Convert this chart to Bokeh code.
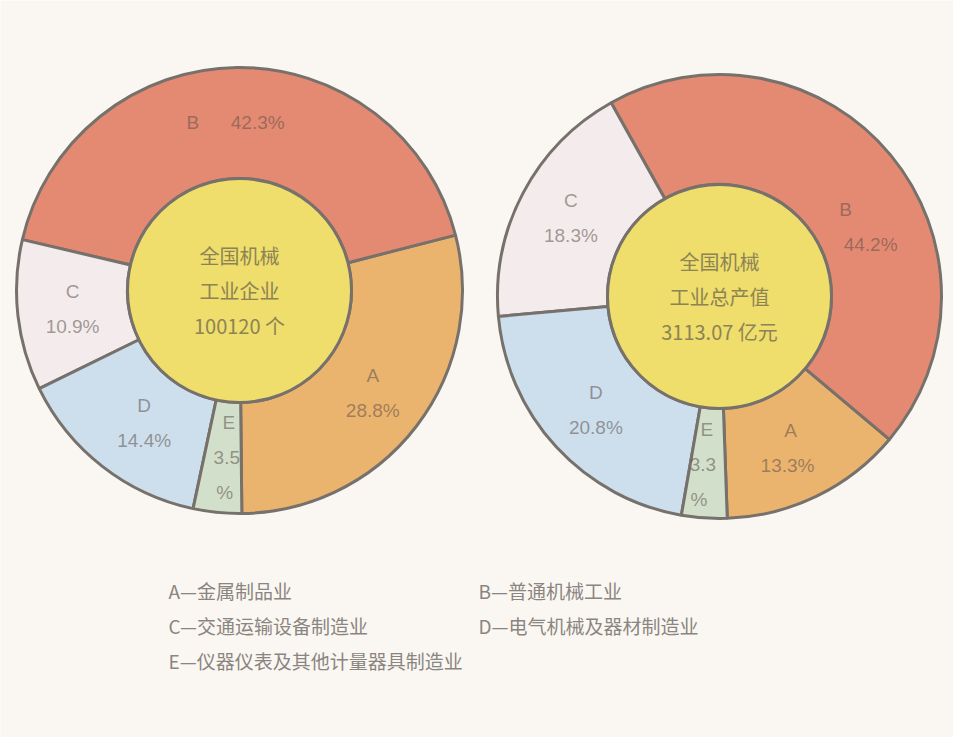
import numpy as np
from bokeh.plotting import figure
from bokeh.models import Range1d, ColumnDataSource
from bokeh.core.properties import value
from bokeh.embed import file_html
from bokeh.resources import INLINE

# ---------------- data ----------------
categories = ["A", "B", "C", "D", "E"]
enterprise_share = [28.8, 42.3, 10.9, 14.4, 3.5]     # 全国机械工业企业 100120 个
output_share = [13.3, 44.2, 18.3, 20.8, 3.3]         # 全国机械工业总产值 3113.07 亿元
legend_names = ["金属制品业", "普通机械工业", "交通运输设备制造业",
                "电气机械及器材制造业", "仪器仪表及其他计量器具制造业"]
center_left = ["全国机械", "工业企业", "100120 个"]
center_right = ["全国机械", "工业总产值", "3113.07 亿元"]

# ---------------- style ----------------
colors = ["#ebb46e", "#e48a72", "#f3ebec", "#cddeec", "#d2dfcb"]
BG = "#faf7f2"
EDGE = "#77716c"
CENTER_FILL = "#efdd6c"
LABEL_COLOR = "#5a4e48"
LABEL_FONT = value("Liberation Sans")
CJK_FONT = value("Noto Sans CJK SC")

W, H = 953, 737
IMG_H = 737
p = figure(width=W, height=H, x_range=Range1d(0, W), y_range=Range1d(IMG_H - H, IMG_H),
           output_backend="svg", toolbar_location=None, x_axis_type=None, y_axis_type=None,
           min_border=0, background_fill_color=BG, border_fill_color=BG, outline_line_color=None)
p.grid.visible = False


def Y(img_y):
    return IMG_H - img_y


def donut(cx, cy_img, shares, start_deg, center_lines, r_in=112, r_out=223,
          label_r=168, label_mode=None, center_spacing=35):
    cy = Y(cy_img)
    vals = np.array(shares, dtype=float)
    frac = vals / vals.sum()
    ends = np.deg2rad(start_deg) + 2 * np.pi * np.cumsum(frac)
    starts = ends - 2 * np.pi * frac
    src = ColumnDataSource(dict(start=starts, end=ends, color=colors, cat=categories))
    p.annular_wedge(x=cx, y=cy, inner_radius=r_in, outer_radius=r_out,
                    start_angle="start", end_angle="end", fill_color="color",
                    line_color=EDGE, line_width=3, source=src)
    p.circle(x=[cx], y=[cy], radius=r_in, fill_color=CENTER_FILL,
             line_color=EDGE, line_width=3)

    # ring labels
    lx, ly, lt = [], [], []
    for i, c in enumerate(categories):
        mid = (starts[i] + ends[i]) / 2
        mode = (label_mode or {}).get(c, {})
        mid += np.deg2rad(mode.get("dang", 0))
        rr = mode.get("r", label_r)
        ax = cx + rr * np.cos(mid) + mode.get("dx", 0)
        ay = cy + rr * np.sin(mid)
        pct = f"{shares[i]}%"
        kind = mode.get("kind", "two")
        if kind == "one":
            lx += [ax - 45, ax + 20]
            ly += [ay, ay]
            lt += [c, pct]
            continue
        if kind == "three":
            lines = [c, f"{shares[i]}", "%"]
        else:
            lines = [c, pct]
        n = len(lines)
        for k, t in enumerate(lines):
            lx.append(ax - mode.get("slant", 0) * (k - (n - 1) / 2))
            ly.append(ay + 35 * ((n - 1) / 2 - k))
            lt.append(t)
    p.text(x=lx, y=ly, text=lt, text_font=LABEL_FONT, text_font_size="19px",
           text_color=LABEL_COLOR, text_alpha=0.55, text_align="center",
           text_baseline="middle")

    # centre text
    n = len(center_lines)
    p.text(x=[cx] * n, y=[cy + center_spacing * ((n - 1) / 2 - k) for k in range(n)],
           text=center_lines, text_font=CJK_FONT, text_font_size="20px",
           text_color="#8c8455", text_align="center", text_baseline="middle")


donut(239, 290, enterprise_share, -89.4, center_left,
      label_mode={"B": {"kind": "one"}, "D": {"dx": 8},
                  "E": {"kind": "three", "slant": 2, "dx": 4}})
donut(719, 296, output_share, -88.0, center_right, r_out=222,
      label_mode={"B": {"dang": -13, "r": 155, "slant": -25},
                  "A": {"dx": -4, "slant": 3},
                  "E": {"kind": "three", "slant": 4, "dx": -5}})

# ---------------- legend text ----------------
leg_x = [168, 478, 168, 478, 168]
leg_y = [590, 590, 625, 625, 660]
p.text(x=leg_x, y=[Y(v) for v in leg_y],
       text=[f"{c}—{n}" for c, n in zip(categories, legend_names)],
       text_font=CJK_FONT, text_font_size="19px", text_color="#8a8580",
       text_align="left", text_baseline="middle")

open("out.html", "w").write(file_html(p, INLINE))
